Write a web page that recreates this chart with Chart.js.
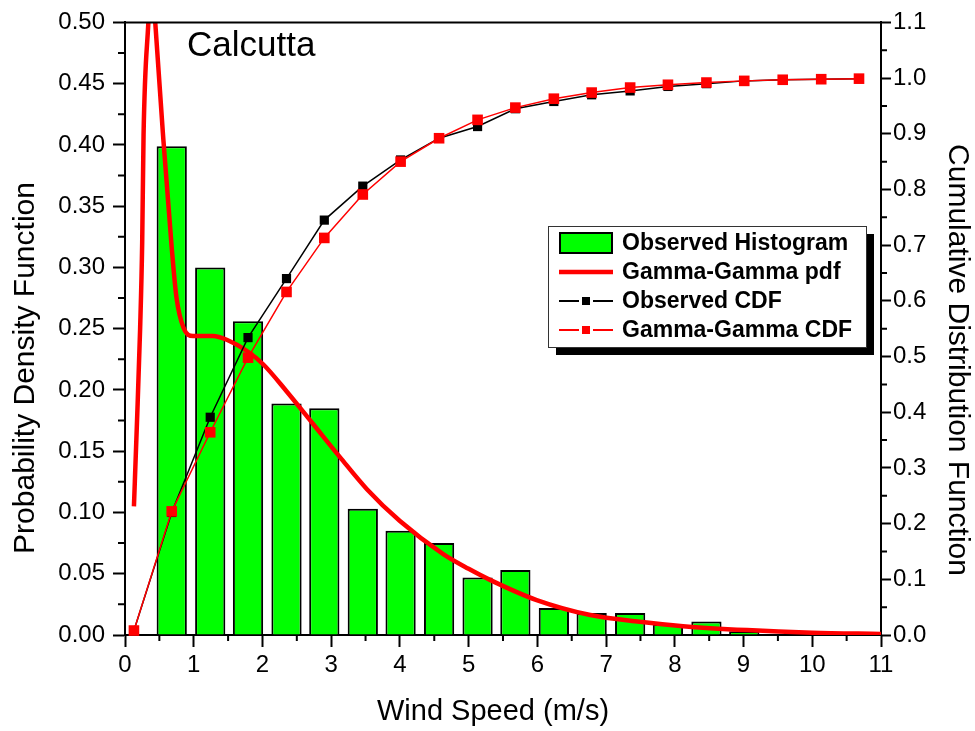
<!DOCTYPE html>
<html>
<head>
<meta charset="utf-8">
<title>Calcutta - wind speed distribution</title>
<script src="https://cdn.jsdelivr.net/npm/chart.js@4.4.1/dist/chart.umd.min.js"></script>
<style>
    html, body { margin: 0; padding: 0; background: #fff; }
    #wrap { width: 975px; height: 731px; }
</style>
</head>
<body>
<div id="wrap"><canvas id="wind-chart" width="975" height="731"></canvas></div>
<script>
// Histogram bins (m/s) and observed density
const histCenters = [0.68, 1.24, 1.79, 2.35, 2.90, 3.46, 4.01, 4.57, 5.13, 5.68, 6.24, 6.79, 7.35, 7.90, 8.46, 9.01];
const histDensity = [0.399, 0.300, 0.256, 0.189, 0.185, 0.103, 0.085, 0.075, 0.047, 0.053, 0.022, 0.018, 0.018, 0.009, 0.011, 0.003];

// CDF points (observed and fitted)
const cdfSpeeds = [0.13, 0.68, 1.24, 1.79, 2.35, 2.90, 3.46, 4.01, 4.57, 5.13, 5.68, 6.24, 6.79, 7.35, 7.90, 8.46, 9.01, 9.57, 10.13, 10.68];
const observedCdf = [0.008, 0.220, 0.391, 0.534, 0.640, 0.745, 0.806, 0.853, 0.892, 0.913, 0.945, 0.958, 0.970, 0.977, 0.985, 0.990, 0.995, 0.997, 0.998, 0.999];
const gammaCdf = [0.008, 0.222, 0.364, 0.498, 0.616, 0.713, 0.791, 0.850, 0.892, 0.925, 0.947, 0.963, 0.974, 0.983, 0.988, 0.992, 0.995, 0.997, 0.998, 0.999];

// Gamma-Gamma pdf
const pdfSpeeds = [0.13, 0.17, 0.22, 0.25, 0.27, 0.34, 0.39, 0.44, 0.56, 0.68, 0.75, 0.85, 0.99, 1.28, 1.48, 1.77, 2.01, 2.35, 2.74, 3.13, 3.52, 4.00, 4.63, 5.00, 5.31, 5.99, 6.77, 7.49, 8.12, 9.05, 10.0, 11.0];
const pdfValues = [0.105, 0.167, 0.250, 0.320, 0.408, 0.500, 0.550, 0.500, 0.403, 0.316, 0.275, 0.251, 0.244, 0.244, 0.241, 0.232, 0.221, 0.199, 0.172, 0.145, 0.119, 0.093, 0.066, 0.054, 0.045, 0.0285, 0.0163, 0.0108, 0.0072, 0.004, 0.0019, 0.0008];

const stationName = 'Calcutta';
const xTitle = 'Wind Speed (m/s)';
const yTitle = 'Probability Density Function';
const y1Title = 'Cumulative Distribution Function';

const FONT = '"Liberation Sans", Arial, sans-serif';
const toPoints = (xs, ys) => xs.map((x, i) => ({ x, y: ys[i] }));

// minor ticks, top frame, axis titles, station label and the boxed legend
const decorations = {
    id: 'decorations',
    afterDraw(chart) {
        const { ctx, chartArea: a, scales } = chart;
        ctx.save();
        ctx.strokeStyle = '#000';
        ctx.lineWidth = 2;

        // top border of the frame
        ctx.beginPath();
        ctx.moveTo(a.left - 1, a.top);
        ctx.lineTo(a.right + 1, a.top);
        ctx.stroke();

        // minor ticks half way between the major ones
        const minor = (scale, draw) => {
            const vals = scale.ticks.map(t => t.value);
            for (let i = 0; i < vals.length - 1; i++) {
                draw(scale.getPixelForValue((vals[i] + vals[i + 1]) / 2));
            }
        };
        ctx.beginPath();
        minor(scales.y, p => { ctx.moveTo(a.left - 7, p); ctx.lineTo(a.left, p); });
        minor(scales.y1, p => { ctx.moveTo(a.right, p); ctx.lineTo(a.right + 6, p); });
        minor(scales.x, p => { ctx.moveTo(p, a.bottom); ctx.lineTo(p, a.bottom + 6); });
        ctx.stroke();

        // axis titles (the original sits them a bit off the axis centres)
        ctx.fillStyle = '#000';
        ctx.textAlign = 'center';
        ctx.textBaseline = 'middle';
        ctx.font = `29px ${FONT}`;
        ctx.fillText(xTitle, 493, 712);
        ctx.font = `30px ${FONT}`;
        ctx.save();
        ctx.translate(26, 368);
        ctx.rotate(-Math.PI / 2);
        ctx.fillText(yTitle, 0, 0);
        ctx.restore();
        ctx.save();
        ctx.translate(957, 360);
        ctx.rotate(Math.PI / 2);
        ctx.fillText(y1Title, 0, 0);
        ctx.restore();

        // station name
        ctx.font = `35px ${FONT}`;
        ctx.textBaseline = 'alphabetic';
        ctx.textAlign = 'left';
        ctx.fillText(stationName, 187, 56);

        // legend box with drop shadow
        const box = { x: 548, y: 226, w: 318, h: 121 };
        ctx.fillStyle = '#000';
        ctx.fillRect(box.x + 8, box.y + 8, box.w, box.h);
        ctx.fillStyle = '#fff';
        ctx.fillRect(box.x, box.y, box.w, box.h);
        ctx.lineWidth = 1;
        ctx.strokeStyle = '#333';
        ctx.strokeRect(box.x + 0.5, box.y + 0.5, box.w, box.h);

        const sx0 = 559, sx1 = 613, textX = 622;
        ctx.font = `bold 23px ${FONT}`;
        ctx.textBaseline = 'middle';
        chart.data.datasets.forEach((ds, i) => {
            const cy = 243 + i * 29;
            if (ds.type === 'bar') {
                ctx.fillStyle = ds.backgroundColor;
                ctx.fillRect(sx0, cy - 11, sx1 - sx0, 22);
                ctx.lineWidth = 2;
                ctx.strokeStyle = ds.borderColor;
                ctx.strokeRect(sx0 + 1, cy - 10, sx1 - sx0 - 2, 20);
            } else if (!ds.pointRadius) {
                ctx.lineWidth = ds.borderWidth;
                ctx.strokeStyle = ds.borderColor;
                ctx.beginPath();
                ctx.moveTo(sx0, cy);
                ctx.lineTo(sx1, cy);
                ctx.stroke();
            } else {
                const mid = (sx0 + sx1) / 2, s = 8;
                ctx.lineWidth = 2;
                ctx.strokeStyle = ds.borderColor;
                ctx.beginPath();
                ctx.moveTo(sx0, cy);
                ctx.lineTo(mid - s / 2 - 3, cy);
                ctx.moveTo(mid + s / 2 + 3, cy);
                ctx.lineTo(sx1, cy);
                ctx.stroke();
                ctx.fillStyle = ds.pointBackgroundColor;
                ctx.fillRect(mid - s / 2, cy - s / 2, s, s);
            }
            ctx.fillStyle = '#000';
            ctx.fillText(ds.label, textX, cy + 1);
        });
        ctx.restore();
    }
};

const tickFont = { family: FONT, size: 24 };
const majorGrid = len => ({
    display: true,
    drawOnChartArea: false,
    offset: false,
    tickLength: len,
    tickWidth: 2,
    tickColor: '#000'
});
const frame = { display: true, color: '#000', width: 2 };

new Chart(document.getElementById('wind-chart'), {
    type: 'bar',
    data: {
        datasets: [
            {
                type: 'bar',
                label: 'Observed Histogram',
                data: toPoints(histCenters, histDensity),
                yAxisID: 'y',
                backgroundColor: '#00FF00',
                borderColor: '#000',
                borderWidth: 2,
                barPercentage: 0.8,
                categoryPercentage: 1.0,
                order: 3
            },
            {
                type: 'line',
                label: 'Gamma-Gamma pdf',
                data: toPoints(pdfSpeeds, pdfValues),
                yAxisID: 'y',
                borderColor: '#FF0000',
                borderWidth: 4.5,
                pointRadius: 0,
                cubicInterpolationMode: 'monotone',
                clip: 0,
                order: 2
            },
            {
                type: 'line',
                label: 'Observed CDF',
                data: toPoints(cdfSpeeds, observedCdf),
                yAxisID: 'y1',
                borderColor: '#000',
                borderWidth: 1.5,
                pointStyle: 'rect',
                pointRadius: 6.5,
                pointBackgroundColor: '#000',
                pointBorderWidth: 0,
                tension: 0,
                clip: false,
                order: 1
            },
            {
                type: 'line',
                label: 'Gamma-Gamma CDF',
                data: toPoints(cdfSpeeds, gammaCdf),
                yAxisID: 'y1',
                borderColor: '#FF0000',
                borderWidth: 1.5,
                pointStyle: 'rect',
                pointRadius: 7.5,
                pointBackgroundColor: '#FF0000',
                pointBorderWidth: 0,
                tension: 0,
                clip: false,
                order: 0
            }
        ]
    },
    options: {
        responsive: false,
        devicePixelRatio: 1,
        animation: false,
        layout: { padding: { top: 20, left: 0, right: 0, bottom: 0 } },
        plugins: {
            legend: { display: false },
            tooltip: { enabled: false }
        },
        scales: {
            x: {
                type: 'linear',
                min: 0,
                max: 11,
                offset: false,
                grid: majorGrid(12),
                border: frame,
                ticks: {
                    stepSize: 1,
                    autoSkip: false,
                    maxRotation: 0,
                    padding: 4,
                    color: '#000',
                    font: tickFont
                },
                afterFit: s => { s.height = 96; }
            },
            y: {
                type: 'linear',
                position: 'left',
                min: 0,
                max: 0.5,
                grid: majorGrid(12),
                border: frame,
                ticks: {
                    stepSize: 0.05,
                    padding: 8,
                    color: '#000',
                    font: tickFont,
                    callback: v => v.toFixed(2)
                },
                afterFit: s => { s.width = 125; }
            },
            y1: {
                type: 'linear',
                position: 'right',
                min: 0,
                max: 1.1,
                grid: majorGrid(10),
                border: frame,
                ticks: {
                    stepSize: 0.1,
                    padding: 2,
                    color: '#000',
                    font: tickFont,
                    callback: v => v.toFixed(1)
                },
                afterFit: s => { s.width = 94; }
            }
        }
    },
    plugins: [decorations]
});
</script>
</body>
</html>
